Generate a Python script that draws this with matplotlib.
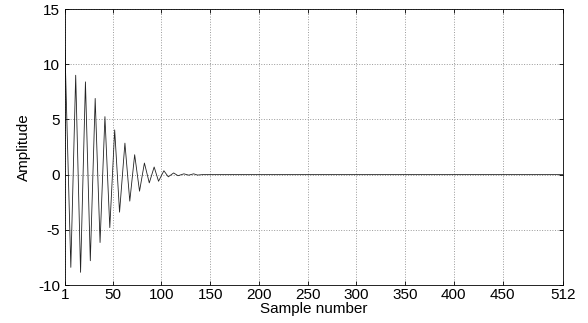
import matplotlib.pyplot as plt

# extrema of the decaying oscillation
sample = [1, 7, 12, 17, 22, 27, 32, 37, 42, 47, 52, 57, 62.5, 67.5, 72.5,
          77.5, 82.5, 87.5, 92.5, 97, 102.5, 107, 112.5, 117, 123, 128,
          133, 137, 142, 512]
amplitude = [11.3, -8.4, 9.0, -8.85, 8.4, -7.8, 6.9, -6.15, 5.25, -4.8,
             4.05, -3.4, 2.85, -2.4, 1.8, -1.5, 1.05, -0.75, 0.69, -0.6,
             0.35, -0.2, 0.15, -0.1, 0.07, -0.05, 0.07, -0.04, 0.0, 0.0]

xticks = [1, 50, 100, 150, 200, 250, 300, 350, 400, 450, 512]
yticks = [-10, -5, 0, 5, 10, 15]

plt.rcParams['font.family'] = ['Liberation Sans', 'DejaVu Sans']
plt.rcParams['axes.unicode_minus'] = False

fig = plt.figure(figsize=(5.88, 3.23), dpi=100)
ax = fig.add_axes([0.1105, 0.1176, 0.847, 0.8545])

ax.plot(sample, amplitude, color='#222222', lw=0.6)

ax.set_xlim(1, 512)
ax.set_ylim(-10, 15)
ax.set_xticks(xticks)
ax.set_yticks(yticks)
ax.tick_params(direction='in', top=True, right=True, labelsize=11,
               length=3, width=0.6)
ax.tick_params(axis='x', pad=2.5)
ax.tick_params(axis='y', pad=3.5)
ax.grid(True, linestyle=':', color='#999999', lw=0.7)
for s in ax.spines.values():
    s.set_linewidth(0.6)

ax.set_xlabel('Sample number', fontsize=11, labelpad=0)
ax.set_ylabel('Amplitude', fontsize=11, labelpad=5.5)

fig.savefig('out.png', dpi=100)
